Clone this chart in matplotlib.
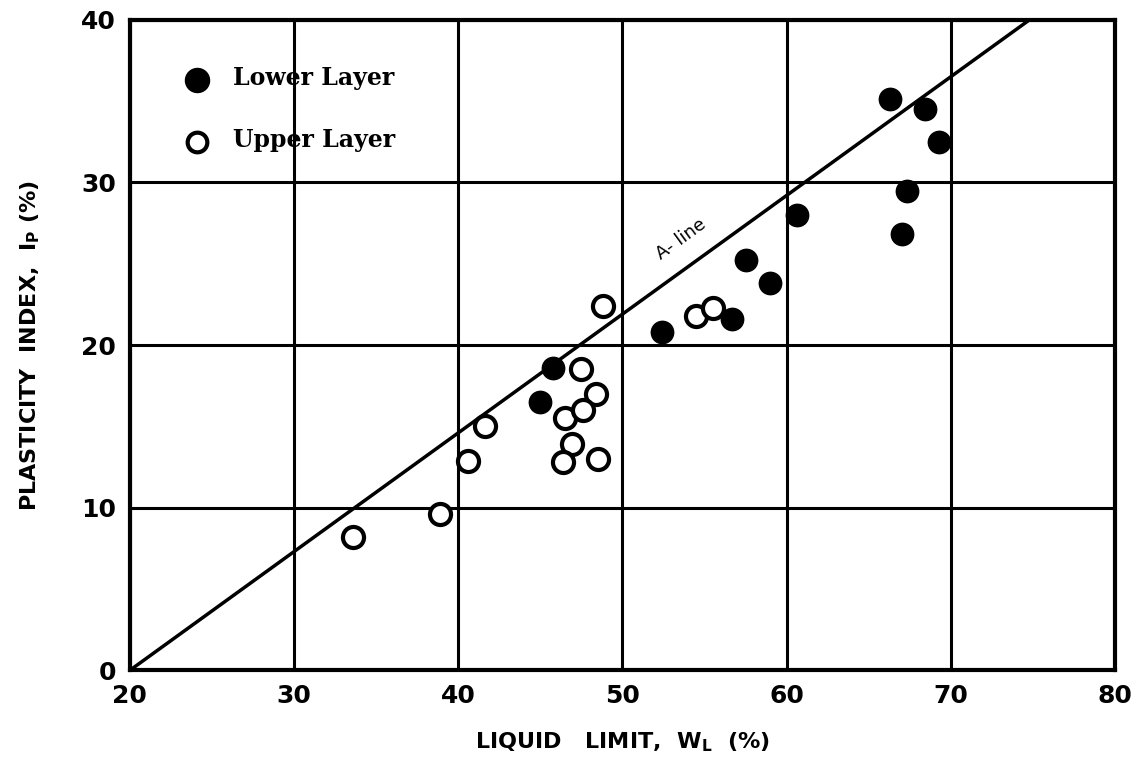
import numpy as np
import matplotlib.pyplot as plt

# Liquid limit / plasticity index
lower_wl = [45.0, 45.8, 52.4, 56.7, 57.5, 59.0, 60.6, 66.3, 68.4, 69.3, 67.3, 67.0]
lower_ip = [16.5, 18.6, 20.8, 21.6, 25.2, 23.8, 28.0, 35.1, 34.5, 32.5, 29.5, 26.8]

upper_wl = [33.6, 38.9, 40.6, 41.6, 48.8, 47.5, 48.4, 46.5, 47.6, 46.9, 46.4, 48.5, 54.5, 55.5]
upper_ip = [8.2, 9.6, 12.9, 15.0, 22.4, 18.5, 17.0, 15.5, 16.0, 13.9, 12.8, 13.0, 21.8, 22.3]

aline_wl = np.array([20, 80])
aline_ip = 0.73 * (aline_wl - 20)

fig = plt.figure(figsize=(11.39, 7.6), dpi=100)
ax = fig.add_axes([0.114, 0.118, 0.865, 0.856])

ax.plot(aline_wl, aline_ip, '-k', lw=2.5, zorder=3)
ax.scatter(lower_wl, lower_ip, s=260, c='black', zorder=4)
ax.scatter(upper_wl, upper_ip, s=230, facecolors='white', edgecolors='black',
           linewidths=3, zorder=4)

ax.text(53.6, 26.5, "A- line", rotation=36, fontsize=13, family='DejaVu Sans',
        ha='center', va='center')

ax.set_xlim(20, 80)
ax.set_ylim(0, 40)
ax.set_xticks(range(20, 81, 10))
ax.set_yticks(range(0, 41, 10))
ax.grid(True, color='black', lw=2.2)
ax.set_axisbelow(True)
for s in ax.spines.values():
    s.set_linewidth(3)
ax.tick_params(length=0, labelsize=18, pad=10)
for lab in ax.get_xticklabels() + ax.get_yticklabels():
    lab.set_fontweight('bold')

ax.set_xlabel("LIQUID   LIMIT,  $\\mathbf{W_L}$  (%)", fontsize=16, fontweight='bold', labelpad=16)
ax.set_ylabel("PLASTICITY  INDEX,  I$_\\mathbf{P}$ (%)", fontsize=16, fontweight='bold', labelpad=28)

# legend drawn by hand to match the original lettering
ax.scatter([24.1], [36.3], s=300, c='black', zorder=4)
ax.scatter([24.1], [32.5], s=200, facecolors='white', edgecolors='black', linewidths=3, zorder=4)
ax.text(26.3, 36.4, "Lower Layer", fontsize=17, fontweight='bold', family='DejaVu Serif', va='center')
ax.text(26.3, 32.6, "Upper Layer", fontsize=17, fontweight='bold', family='DejaVu Serif', va='center')

plt.savefig("out.png", dpi=100)
